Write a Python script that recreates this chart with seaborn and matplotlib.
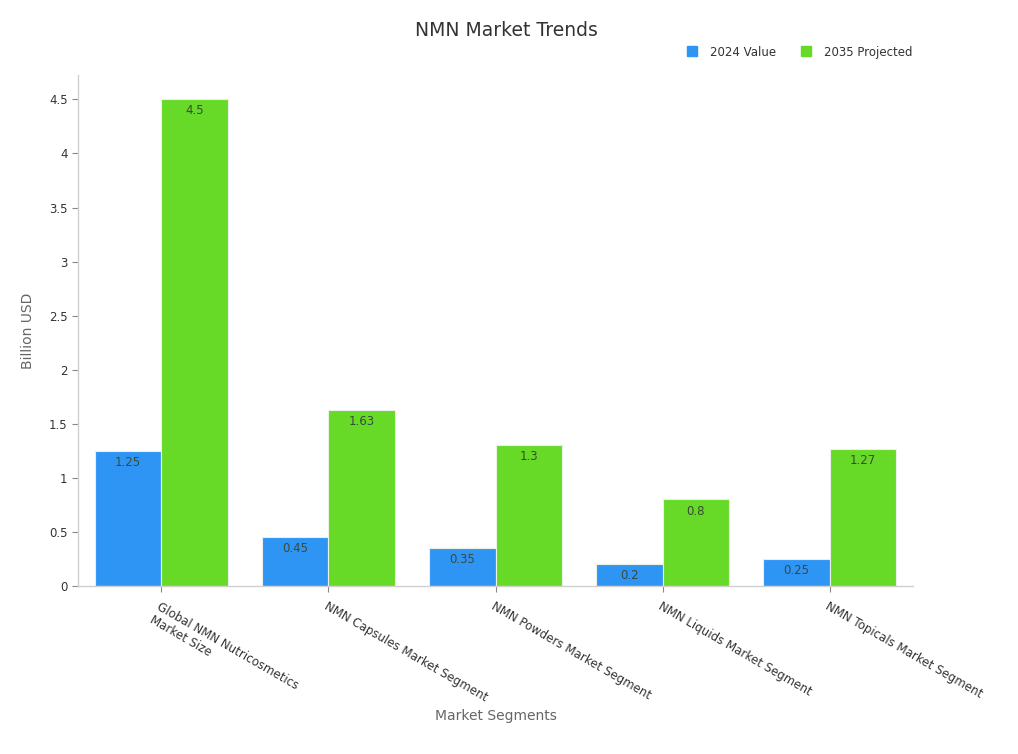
import pandas as pd
import matplotlib
matplotlib.use("Agg")
import matplotlib.pyplot as plt
from matplotlib.ticker import FuncFormatter
import seaborn as sns

segments = [
    "Global NMN Nutricosmetics\nMarket Size",
    "NMN Capsules Market Segment",
    "NMN Powders Market Segment",
    "NMN Liquids Market Segment",
    "NMN Topicals Market Segment",
]
value_2024 = [1.25, 0.45, 0.35, 0.2, 0.25]
value_2035 = [4.5, 1.63, 1.3, 0.8, 1.27]
series_names = ["2024 Value", "2035 Projected"]
colors = ["#2f95f5", "#66da26"]

df = pd.DataFrame({
    "segment": segments * 2,
    "value": value_2024 + value_2035,
    "series": [series_names[0]] * len(segments) + [series_names[1]] * len(segments),
})

sns.set_style("white")
plt.rcParams["font.family"] = ["DejaVu Sans"]

fig = plt.figure(figsize=(10.18, 7.54), dpi=100)
ax = fig.add_axes([0.0766, 0.2228, 0.8203, 0.6777])

sns.barplot(data=df, x="segment", y="value", hue="series", palette=colors,
            saturation=1, width=0.8, gap=0, edgecolor="#e8f0e8", linewidth=0.8,
            ax=ax, legend=False)

for cont in ax.containers:
    ax.bar_label(cont, fmt="%g", padding=-13, fontsize=8.5, color="#3a4a3a")

ax.set_xlim(-0.5, 4.5)
ax.set_ylim(0, 4.725)
ax.set_yticks([0, 0.5, 1, 1.5, 2, 2.5, 3, 3.5, 4, 4.5])
ax.yaxis.set_major_formatter(FuncFormatter(lambda v, p: f"{v:g}"))

ax.set_xticks(range(len(segments)))
ax.set_xticklabels(segments, rotation=-30, ha="left", rotation_mode="anchor",
                   fontsize=8.5, color="#333333")
ax.tick_params(axis="y", labelsize=8.5, labelcolor="#333333", length=4,
               color="#888888", left=True)
ax.tick_params(axis="x", length=4, color="#888888", bottom=True, pad=6)

for side in ["top", "right"]:
    ax.spines[side].set_visible(False)
for side in ["left", "bottom"]:
    ax.spines[side].set_color("#d0d0d0")
    ax.spines[side].set_linewidth(1)

ax.set_ylabel("Billion USD", fontsize=10, color="#666666", labelpad=10)
ax.set_xlabel("Market Segments", fontsize=10, color="#666666", labelpad=3)

fig.suptitle("NMN Market Trends", x=0.497, y=0.972, fontsize=13.5, color="#333333")

handles = [plt.Line2D([], [], marker="s", linestyle="", markersize=7,
                      markerfacecolor=c, markeredgecolor=c) for c in colors]
fig.legend(handles, series_names, loc="center right", bbox_to_anchor=(0.907, 0.931),
           ncol=2, frameon=False, fontsize=8.5, handletextpad=0.5,
           columnspacing=1.6, labelcolor="#333333")

fig.savefig("out.png", dpi=100)
